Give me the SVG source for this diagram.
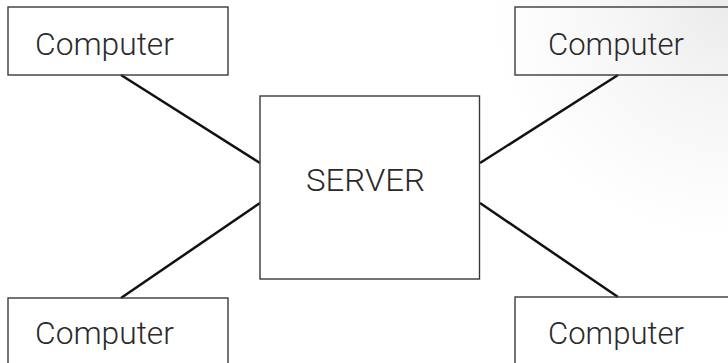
<svg xmlns="http://www.w3.org/2000/svg" width="728" height="363" viewBox="0 0 728 363">
<defs>
<radialGradient id="shade" cx="728" cy="0" r="240" gradientUnits="userSpaceOnUse">
<stop offset="0" stop-color="#ebebeb"/>
<stop offset="0.45" stop-color="#f6f6f6"/>
<stop offset="1" stop-color="#ffffff"/>
</radialGradient>
</defs>
<style>
.box{fill:none;stroke:#3a3a3a;stroke-width:1.4}
.lbl{font-family:Roboto,"Liberation Sans",Arial,sans-serif;font-weight:300;font-size:31px;fill:#2a2a2a}
.conn{stroke:#111;stroke-width:2.5;stroke-linecap:butt}
</style>
<rect x="0" y="0" width="728" height="363" fill="#fff"/>
<rect x="480" y="0" width="248" height="240" fill="url(#shade)"/>
<g id="connectors">
<line class="conn" x1="121" y1="75" x2="260" y2="163"/>
<line class="conn" x1="618" y1="75" x2="480" y2="163"/>
<line class="conn" x1="121" y1="298" x2="260" y2="203"/>
<line class="conn" x1="618" y1="297" x2="480" y2="203"/>
</g>
<g id="server">
<rect class="box" x="260" y="96" width="219.5" height="183" style="fill:#fff"/>
<text class="lbl" x="306" y="191" textLength="119" lengthAdjust="spacingAndGlyphs">SERVER</text>
</g>
<g id="computer-tl">
<rect class="box" x="8" y="7" width="220" height="68"/>
<text class="lbl" x="35" y="55" textLength="139" lengthAdjust="spacingAndGlyphs">Computer</text>
</g>
<g id="computer-tr">
<rect class="box" x="515" y="7" width="220" height="68"/>
<text class="lbl" x="548" y="55" textLength="136" lengthAdjust="spacingAndGlyphs">Computer</text>
</g>
<g id="computer-bl">
<rect class="box" x="8" y="298" width="220" height="70"/>
<text class="lbl" x="35" y="344" textLength="139" lengthAdjust="spacingAndGlyphs">Computer</text>
</g>
<g id="computer-br">
<rect class="box" x="515" y="297" width="220" height="70"/>
<text class="lbl" x="548" y="344" textLength="136" lengthAdjust="spacingAndGlyphs">Computer</text>
</g>
</svg>
